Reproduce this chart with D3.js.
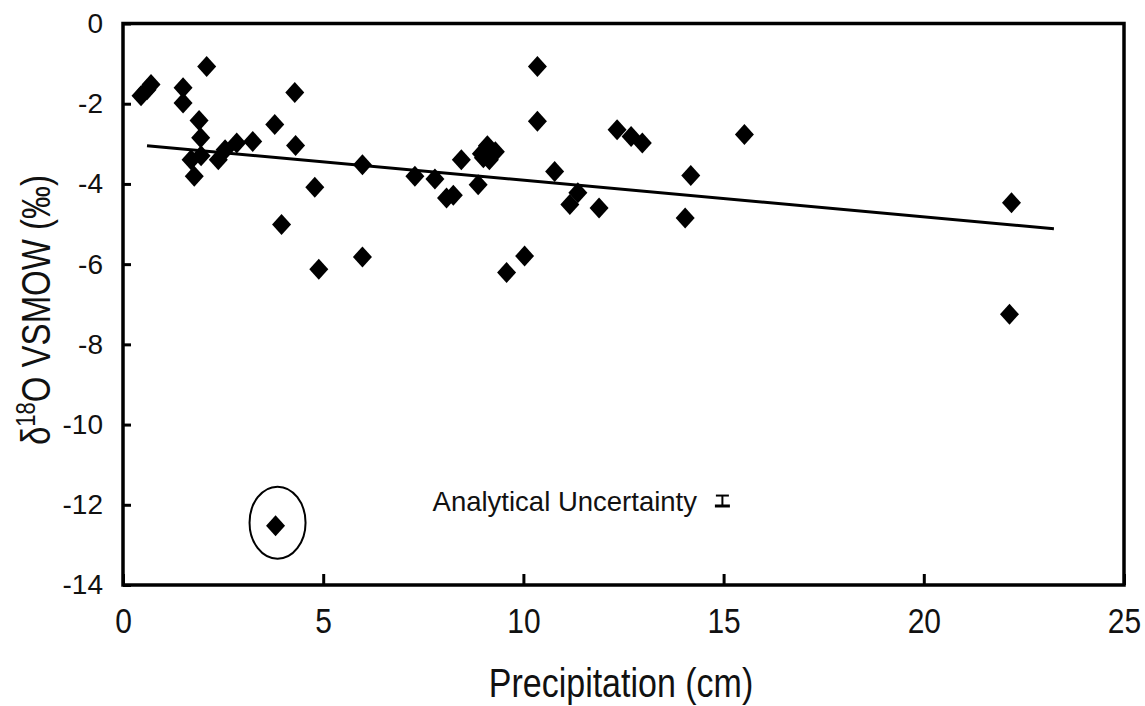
<!DOCTYPE html>
<html>
<head>
<meta charset="utf-8">
<script src="https://cdn.jsdelivr.net/npm/d3@7"></script>
<style>
  html, body { margin: 0; padding: 0; background: #fff; }
  svg { display: block; font-family: "Liberation Sans", Arial, sans-serif; }
</style>
</head>
<body>
<svg id="chart" width="1145" height="706"></svg>
<script>
// ---- data ----
const precipitation = [0.45, 0.6, 0.7, 1.5, 1.5, 2.09, 1.9, 1.94, 1.7, 1.95, 1.78, 2.38, 2.55, 2.84, 3.24, 3.79, 4.29, 4.31, 4.79, 3.96, 4.89, 5.98, 5.98, 7.29, 7.79, 8.08, 8.25, 8.45, 8.87, 8.95, 9.1, 9.3, 9.15, 9.0, 10.35, 10.35, 10.78, 11.16, 11.36, 11.89, 12.34, 12.69, 12.97, 14.18, 14.04, 15.52, 10.03, 9.58, 22.19, 22.14];
const d18O = [-1.8, -1.65, -1.52, -1.6, -1.98, -1.07, -2.42, -2.85, -3.4, -3.3, -3.81, -3.4, -3.15, -2.98, -2.94, -2.52, -1.72, -3.04, -4.08, -5.01, -6.13, -3.52, -5.82, -3.81, -3.88, -4.35, -4.28, -3.4, -4.02, -3.25, -3.05, -3.2, -3.4, -3.35, -1.07, -2.44, -3.69, -4.51, -4.22, -4.6, -2.65, -2.82, -2.98, -3.79, -4.85, -2.77, -5.8, -6.21, -4.47, -7.25];
const outlierX = [3.81];
const outlierY = [-12.52];
const fitXRange = [0.6, 23.25];
const fitIntercept = -2.995;
const fitSlope = -0.0912;
const uncertaintyX = [14.97];
const uncertaintyY = [-11.9];
const uncertaintyHalf = [0.13];
const xTicks = [0, 5, 10, 15, 20, 25];
const yTicks = [0, -2, -4, -6, -8, -10, -12, -14];

// ---- layout ----
const svg = d3.select("#chart");
const L = 123, R = 1124, T = 23.5, B = 585;
const x = d3.scaleLinear().domain([0, 25]).range([L, R]);
const y = d3.scaleLinear().domain([0, -14]).range([T, B]);
const fmt = d => String(d);

// x axis (ticks inward)
const gx = svg.append("g").attr("transform", `translate(0,${B})`)
  .call(d3.axisBottom(x).tickValues(xTicks).tickFormat(fmt).tickSizeInner(-11).tickSizeOuter(0).tickPadding(0));
gx.select(".domain").remove();
gx.selectAll(".tick line").attr("stroke", "#000").attr("stroke-width", 3);
gx.selectAll(".tick text")
  .attr("font-size", 30).attr("fill", "#111").attr("dy", null).attr("y", null)
  .attr("font-family", "Liberation Sans, Arial, sans-serif")
  .attr("transform", "translate(0,48) scale(1,1.15)");

// y axis (ticks inward)
const gy = svg.append("g").attr("transform", `translate(${L},0)`)
  .call(d3.axisLeft(y).tickValues(yTicks).tickFormat(fmt).tickSizeInner(-8).tickSizeOuter(0).tickPadding(20));
gy.select(".domain").remove();
gy.selectAll(".tick line").attr("stroke", "#000").attr("stroke-width", 3);
gy.selectAll(".tick text").attr("font-size", 28).attr("fill", "#111").attr("font-family", "Liberation Sans, Arial, sans-serif");

// frame
svg.append("rect").attr("x", L).attr("y", T).attr("width", R - L).attr("height", B - T)
  .attr("fill", "none").attr("stroke", "#000").attr("stroke-width", 3.5);

// regression line
svg.append("line")
  .attr("x1", x(fitXRange[0])).attr("y1", y(fitIntercept + fitSlope * fitXRange[0]))
  .attr("x2", x(fitXRange[1])).attr("y2", y(fitIntercept + fitSlope * fitXRange[1]))
  .attr("stroke", "#000").attr("stroke-width", 3);

// diamonds
const hw = 9.5, hh = 10.5;
const diamond = `M0,${-hh}L${hw},0L0,${hh}L${-hw},0Z`;
const pts = precipitation.map((v, i) => [v, d18O[i]]);
svg.append("g").selectAll("path").data(pts).join("path")
  .attr("d", diamond)
  .attr("transform", d => `translate(${x(d[0])},${y(d[1])})`)
  .attr("fill", "#000");

// outlier + ellipse
const outl = outlierX.map((v, i) => [v, outlierY[i]]);
svg.append("g").selectAll("path").data(outl).join("path")
  .attr("d", diamond)
  .attr("transform", d => `translate(${x(d[0])},${y(d[1])})`)
  .attr("fill", "#000");
svg.append("g").selectAll("ellipse").data(outl).join("ellipse")
  .attr("cx", d => x(d[0]) + 2).attr("cy", d => y(d[1]) - 3)
  .attr("rx", 28).attr("ry", 36)
  .attr("fill", "none").attr("stroke", "#000").attr("stroke-width", 2);

// analytical uncertainty
const ux = x(uncertaintyX[0]);
const uy1 = y(uncertaintyY[0] + uncertaintyHalf[0]), uy2 = y(uncertaintyY[0] - uncertaintyHalf[0]);
const ug = svg.append("g").attr("stroke", "#000");
ug.append("line").attr("x1", ux).attr("x2", ux).attr("y1", uy1).attr("y2", uy2).attr("stroke-width", 2);
ug.append("line").attr("x1", ux - 6.5).attr("x2", ux + 6.5).attr("y1", uy1).attr("y2", uy1).attr("stroke-width", 2);
ug.append("line").attr("x1", ux - 7.5).attr("x2", ux + 7.5).attr("y1", uy2).attr("y2", uy2).attr("stroke-width", 3);
svg.append("text").attr("x", 697).attr("y", 511).attr("text-anchor", "end")
  .attr("font-size", 27.5).attr("fill", "#111").text("Analytical Uncertainty");

// axis titles
svg.append("text").attr("transform", "translate(621,697) scale(1,1.18)").attr("text-anchor", "middle")
  .attr("font-size", 34).attr("fill", "#111").text("Precipitation (cm)");

const yt = svg.append("text").attr("transform", "translate(50,310) rotate(-90) scale(1,1.25)")
  .attr("text-anchor", "middle").attr("font-size", 33).attr("fill", "#111");
yt.append("tspan").text("δ");
yt.append("tspan").attr("font-size", 22).attr("dy", -12).text("18");
yt.append("tspan").attr("dy", 12).text("O VSMOW (‰)");
</script>
</body>
</html>
